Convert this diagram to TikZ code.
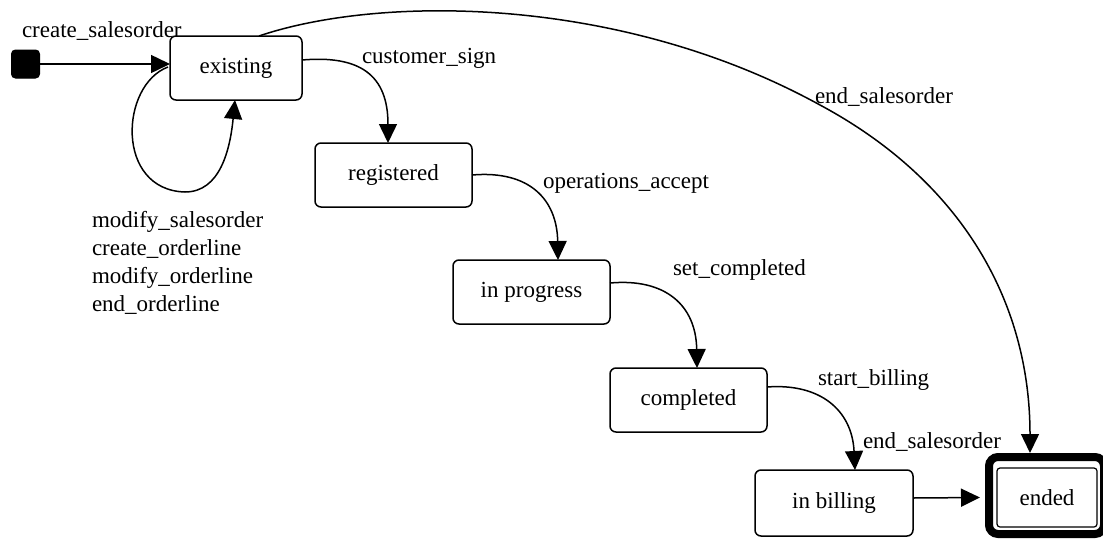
\documentclass[tikz,border=0pt]{standalone}
\usepackage{fontspec}
\setmainfont{Liberation Serif}
\usetikzlibrary{arrows.meta}
\begin{document}
\begin{tikzpicture}[x=1pt,y=-1pt,
  every node/.style={font=\fontsize{23}{27.7}\selectfont, inner sep=0pt, outer sep=0pt},
  statebox/.style={draw, line width=1.5pt, rounded corners=6pt, minimum height=64pt},
  trans/.style={line width=1.5pt, -{Triangle[length=19pt,width=18pt]}},
  lbl/.style={anchor=base west}]
\useasboundingbox (0,0) rectangle (1103,539);

% states
\node[fill=black, draw, line width=1pt, rounded corners=4pt, minimum size=28pt] (init) at (25.5,64) {};
\node[statebox, minimum width=132pt] (exist) at (236,68) {existing};
\node[statebox, minimum width=157pt] (reg) at (393.5,175) {registered};
\node[statebox, minimum width=157pt] (prog) at (531.5,292) {in progress};
\node[statebox, minimum width=157pt] (compl) at (688.5,400) {completed};
\node[statebox, minimum width=158pt, minimum height=66pt] (bill) at (834,503) {in billing};
\node[draw, line width=1.2pt, rounded corners=3pt, minimum width=100pt, minimum height=59pt] (ended) at (1047,497.5) {ended};
\begin{scope}
  \clip (0,0) rectangle (1103,539);
  \draw[line width=8pt, rounded corners=9pt]
    ([shift={(-8pt,11pt)}]ended.north west) rectangle ([shift={(7pt,-7pt)}]ended.south east);
\end{scope}

% transitions
\draw[trans] (init) -- (init -| exist.west);
\draw[trans] ([yshift=8pt]exist.east) .. controls (360,55) and (388,75) .. ([xshift=-5.5pt]reg.north);
\draw[trans] (reg.east) .. controls (530,170) and (557,200) .. ([xshift=26.5pt]prog.north);
\draw[trans] ([yshift=9pt]prog.east) .. controls (665,278) and (696,305) .. ([xshift=8.5pt]compl.north);
\draw[trans] ([yshift=13pt]compl.east) .. controls (820,383) and (852,410) .. ([xshift=21pt]bill.north);
\draw[trans] ([yshift=5pt]bill.east) -- ([xshift=-17pt]ended.west);
\draw[trans] ([shift={(-2pt,1pt)}]exist.west) .. controls (120,85) and (115,190) .. (185,192)
  .. controls (220,192) and (230,150) .. ([xshift=-1pt]exist.south);
\draw[trans] ([xshift=23pt]exist.north) .. controls (380,-5) and (620,-5) .. (820,105)
  .. controls (960,180) and (1030,300) .. ([shift={(-17pt,15pt)}]ended.north);

% transition labels
\node[lbl] (l1) at (22,37) {create\_salesorder};
\node[lbl] (l2) at (362,63) {customer\_sign};
\node[lbl] (l3) at (543,188) {operations\_accept};
\node[lbl] (l4) at (673,275) {set\_completed};
\node[lbl] (l5) at (818,385) {start\_billing};
\node[lbl] (l6) at (863,448) {end\_salesorder};
\node[lbl] (l7) at (815,103) {end\_salesorder};
% the self-transition of "existing" carries four events
\node[lbl] (l8a) at (92,227) {modify\_salesorder};
\node[lbl] (l8b) at (92,255) {create\_orderline};
\node[lbl] (l8c) at (92,283) {modify\_orderline};
\node[lbl] (l8d) at (92,311) {end\_orderline};
\end{tikzpicture}
\end{document}
